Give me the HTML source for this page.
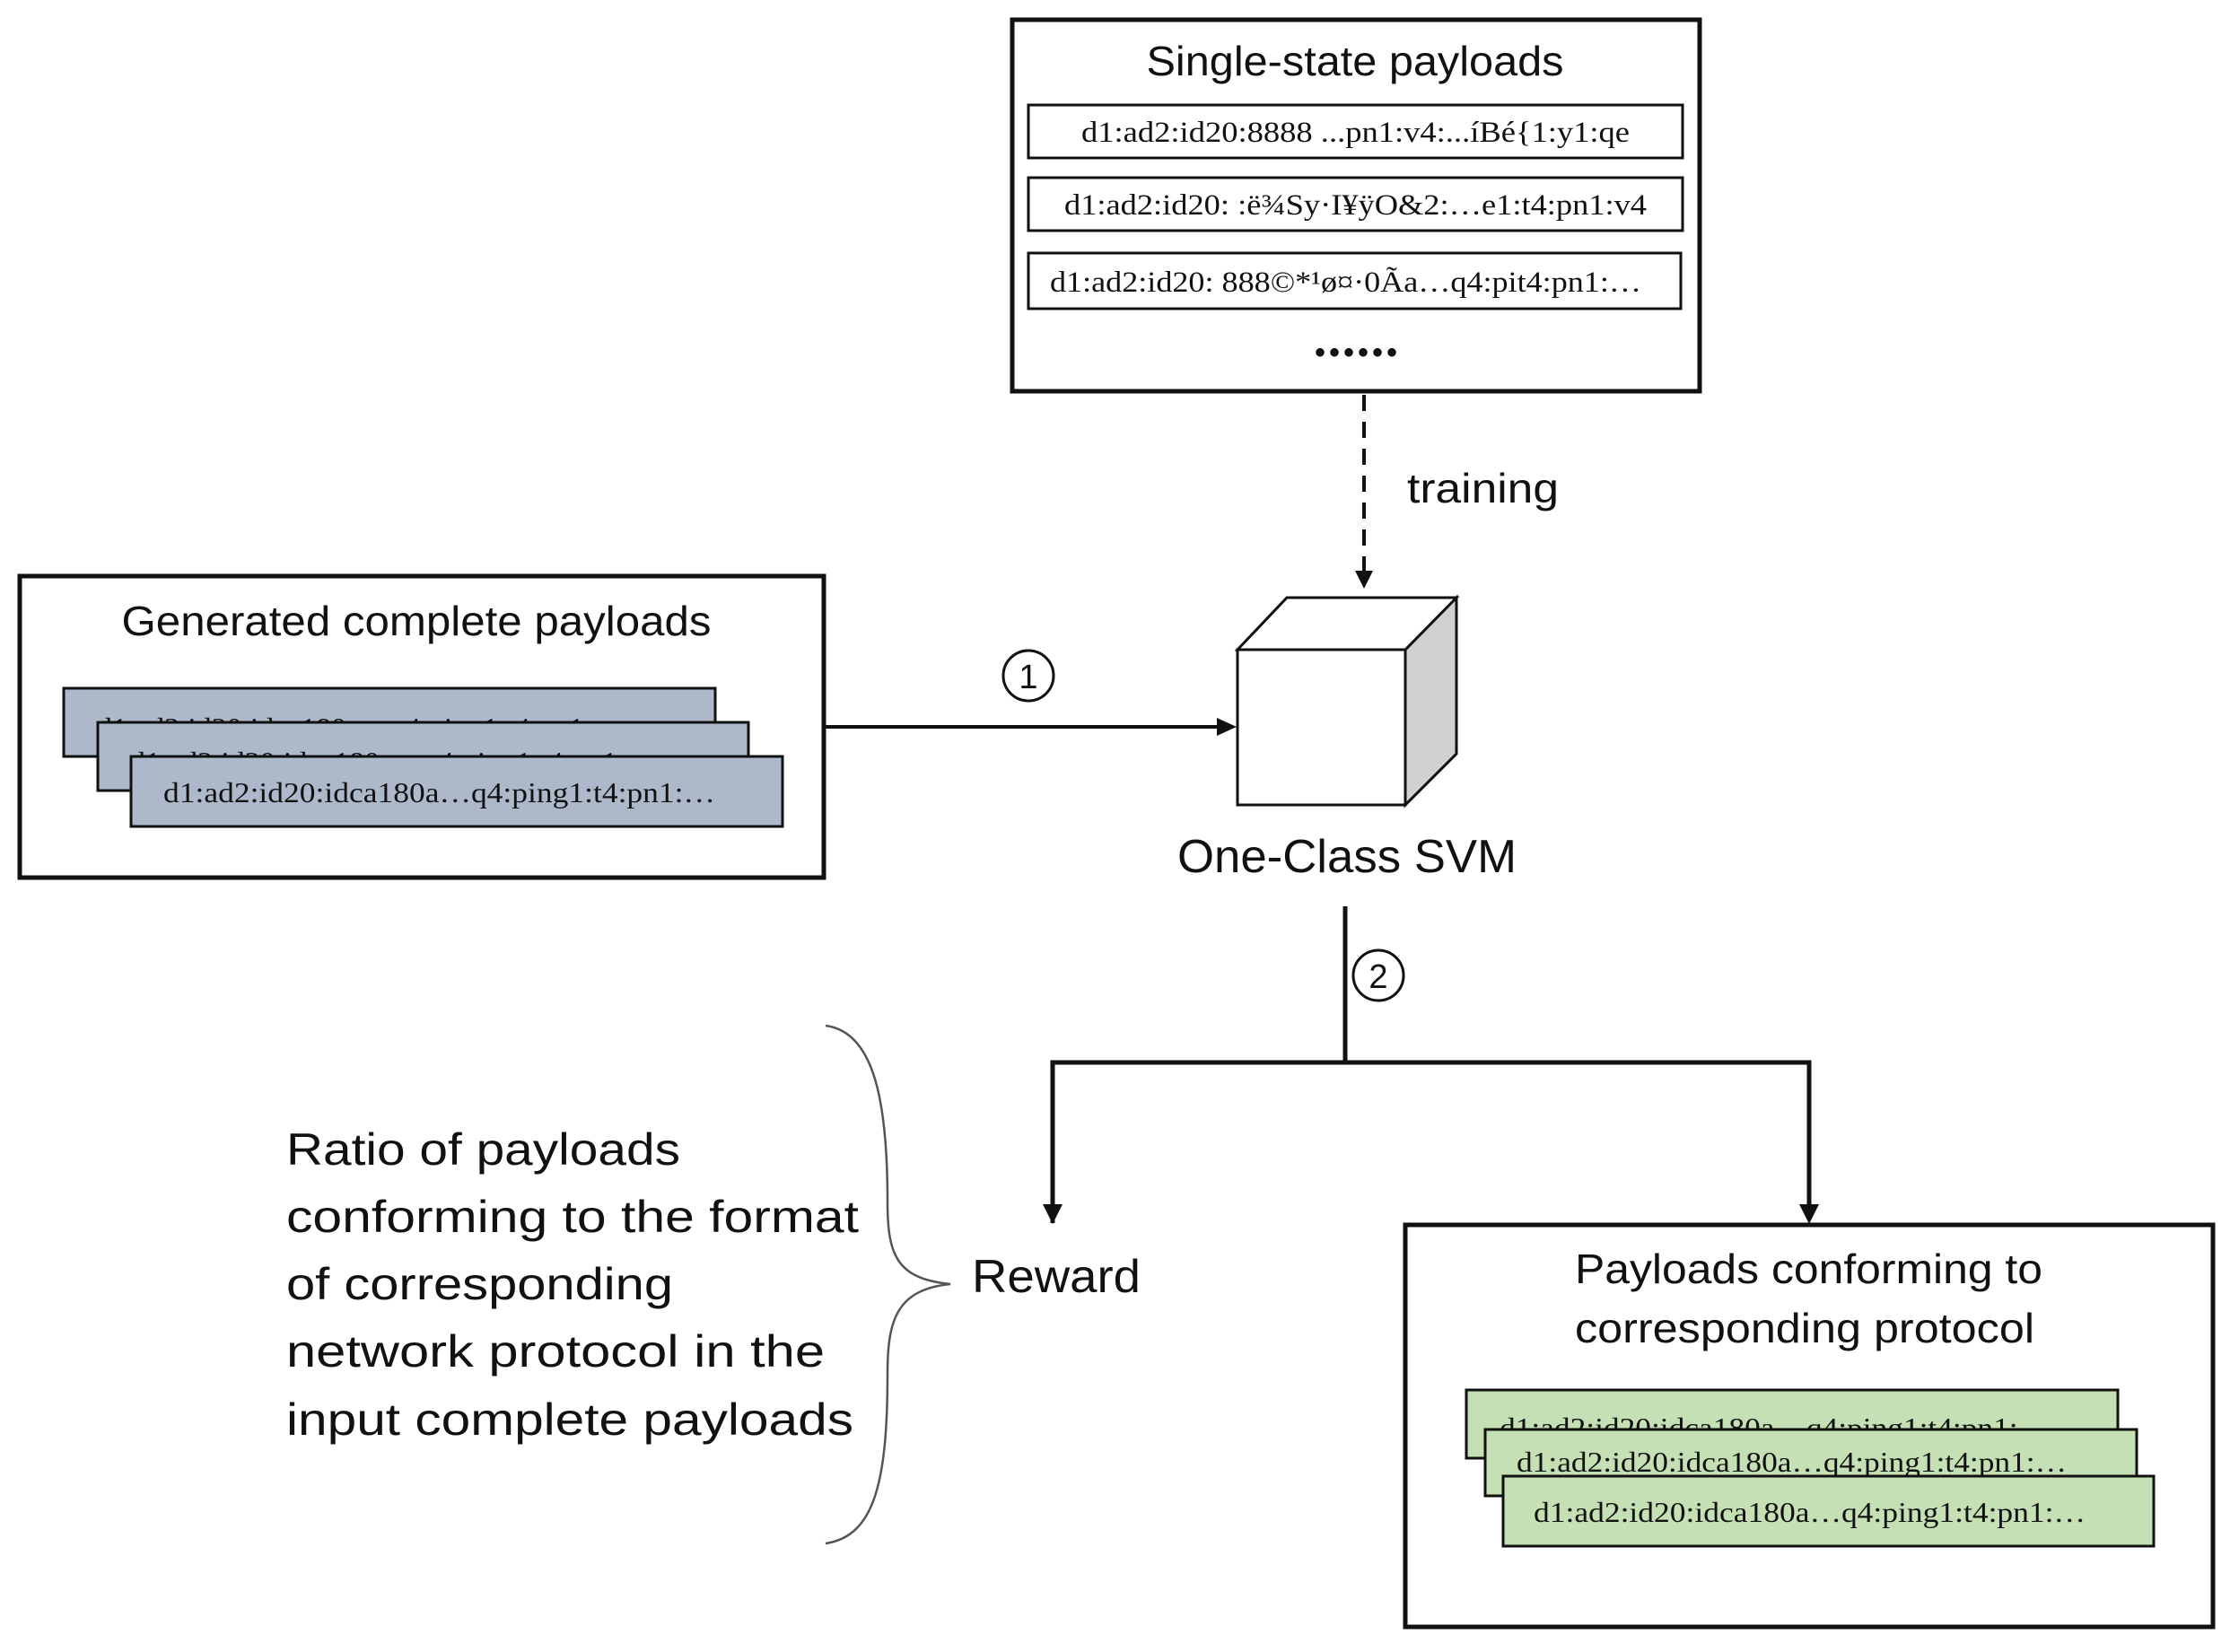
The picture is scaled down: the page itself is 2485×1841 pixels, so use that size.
<!DOCTYPE html>
<html><head><meta charset="utf-8"><style>
html,body{margin:0;padding:0;background:#fff;}
svg{display:block;}
.t{font-family:"Liberation Sans",sans-serif;fill:#111;}
.s{font-family:"Liberation Serif",serif;fill:#111;}
</style></head><body>
<svg width="2485" height="1841" viewBox="0 0 2485 1841" xmlns="http://www.w3.org/2000/svg">
<!-- Top box -->
<rect x="1128" y="22" width="766" height="414" fill="#fff" stroke="#111" stroke-width="5"/>
<text class="t" x="1510" y="84" font-size="46" text-anchor="middle" textLength="465" lengthAdjust="spacingAndGlyphs">Single-state payloads</text>
<rect x="1146" y="117" width="729" height="59" fill="#fff" stroke="#111" stroke-width="3"/>
<text class="s" x="1205" y="158" font-size="33" textLength="611" lengthAdjust="spacingAndGlyphs">d1:ad2:id20:8888  ...pn1:v4:...íBé{1:y1:qe</text>
<rect x="1146" y="198" width="729" height="59" fill="#fff" stroke="#111" stroke-width="3"/>
<text class="s" x="1186" y="239" font-size="33" textLength="649" lengthAdjust="spacingAndGlyphs">d1:ad2:id20: :ë¾Sy·I¥ÿO&amp;2:…e1:t4:pn1:v4</text>
<rect x="1146" y="282" width="727" height="62" fill="#fff" stroke="#111" stroke-width="3"/>
<text class="s" x="1170" y="325" font-size="33" textLength="659" lengthAdjust="spacingAndGlyphs">d1:ad2:id20: 888©*¹ø¤·0Ãa…q4:pit4:pn1:…</text>
<text class="s" x="1512" y="406" font-size="40" text-anchor="middle" letter-spacing="2">••••••</text>
<!-- dashed training -->
<line x1="1520" y1="440" x2="1520" y2="640" stroke="#111" stroke-width="4" stroke-dasharray="18,12"/>
<polygon points="1510,636 1530,636 1520,656" fill="#111"/>
<text class="t" x="1568" y="560" font-size="46" textLength="169" lengthAdjust="spacingAndGlyphs">training</text>
<!-- Cube -->
<polygon points="1566,724 1623,666 1623,840 1566,897" fill="#d0d0d0" stroke="#111" stroke-width="3"/>
<polygon points="1379,724 1434,666 1623,666 1566,724" fill="#fff" stroke="#111" stroke-width="3"/>
<rect x="1379" y="724" width="187" height="173" fill="#fff" stroke="#111" stroke-width="3"/>
<text class="t" x="1501" y="972" font-size="52" text-anchor="middle" textLength="378" lengthAdjust="spacingAndGlyphs">One-Class SVM</text>
<!-- Left box -->
<rect x="22" y="642" width="896" height="336" fill="#fff" stroke="#111" stroke-width="5"/>
<text class="t" x="464" y="708" font-size="46" text-anchor="middle" textLength="657" lengthAdjust="spacingAndGlyphs">Generated complete payloads</text>
<rect x="71" y="767" width="726" height="76" fill="#adb9ca" stroke="#111" stroke-width="3"/>
<text class="s" x="108" y="822" font-size="32" textLength="586" lengthAdjust="spacingAndGlyphs">d1:ad2:id20:idca180a…q4:ping1:t4:pn1:…</text>
<rect x="109" y="805" width="725" height="76" fill="#adb9ca" stroke="#111" stroke-width="3"/>
<text class="s" x="145" y="860" font-size="32" textLength="586" lengthAdjust="spacingAndGlyphs">d1:ad2:id20:idca180a…q4:ping1:t4:pn1:…</text>
<rect x="146" y="843" width="726" height="78" fill="#adb9ca" stroke="#111" stroke-width="3"/>
<text class="s" x="182" y="894" font-size="32" textLength="615" lengthAdjust="spacingAndGlyphs">d1:ad2:id20:idca180a…q4:ping1:t4:pn1:…</text>
<!-- arrow 1 -->
<line x1="918" y1="810" x2="1360" y2="810" stroke="#111" stroke-width="4"/>
<polygon points="1356,800 1378,810 1356,820" fill="#111"/>
<circle cx="1146" cy="753" r="28" fill="#fff" stroke="#111" stroke-width="3"/>
<text class="t" x="1146" y="767" font-size="38" text-anchor="middle">1</text>
<!-- arrow 2 branch -->
<line x1="1499" y1="1010" x2="1499" y2="1184" stroke="#111" stroke-width="5"/>
<circle cx="1536" cy="1087" r="28" fill="#fff" stroke="#111" stroke-width="3"/>
<text class="t" x="1536" y="1101" font-size="38" text-anchor="middle">2</text>
<polyline points="1173,1363 1173,1184 2016,1184 2016,1350" fill="none" stroke="#111" stroke-width="5"/>
<polygon points="1162,1342 1184,1342 1173,1364" fill="#111"/>
<polygon points="2005,1342 2027,1342 2016,1364" fill="#111"/>
<text class="t" x="1083" y="1440" font-size="52" textLength="188" lengthAdjust="spacingAndGlyphs">Reward</text>
<!-- brace -->
<path d="M920,1143 C975,1150 989,1230 989,1340 C989,1400 1000,1425 1059,1431 C1000,1437 989,1470 989,1530 C989,1650 975,1712 920,1720" fill="none" stroke="#555" stroke-width="2.5"/>
<text class="t" font-size="50">
<tspan x="319" y="1298" textLength="439" lengthAdjust="spacingAndGlyphs">Ratio of payloads</tspan>
<tspan x="319" y="1373" textLength="638" lengthAdjust="spacingAndGlyphs">conforming to the format</tspan>
<tspan x="319" y="1448" textLength="431" lengthAdjust="spacingAndGlyphs">of corresponding</tspan>
<tspan x="319" y="1523" textLength="600" lengthAdjust="spacingAndGlyphs">network protocol in the</tspan>
<tspan x="319" y="1599" textLength="632" lengthAdjust="spacingAndGlyphs">input complete payloads</tspan>
</text>
<!-- right box -->
<rect x="1566" y="1365" width="900" height="448" fill="#fff" stroke="#111" stroke-width="5"/>
<text class="t" x="1755" y="1430" font-size="46" textLength="521" lengthAdjust="spacingAndGlyphs">Payloads conforming to</text>
<text class="t" x="1755" y="1496" font-size="46" textLength="512" lengthAdjust="spacingAndGlyphs">corresponding protocol</text>
<rect x="1634" y="1549" width="726" height="76" fill="#c5e0b4" stroke="#111" stroke-width="3"/>
<text class="s" x="1671" y="1602" font-size="32" textLength="613" lengthAdjust="spacingAndGlyphs">d1:ad2:id20:idca180a…q4:ping1:t4:pn1:…</text>
<rect x="1655" y="1593" width="726" height="74" fill="#c5e0b4" stroke="#111" stroke-width="3"/>
<text class="s" x="1690" y="1640" font-size="32" textLength="613" lengthAdjust="spacingAndGlyphs">d1:ad2:id20:idca180a…q4:ping1:t4:pn1:…</text>
<rect x="1675" y="1645" width="725" height="78" fill="#c5e0b4" stroke="#111" stroke-width="3"/>
<text class="s" x="1709" y="1696" font-size="32" textLength="615" lengthAdjust="spacingAndGlyphs">d1:ad2:id20:idca180a…q4:ping1:t4:pn1:…</text>
</svg>
</body></html>
